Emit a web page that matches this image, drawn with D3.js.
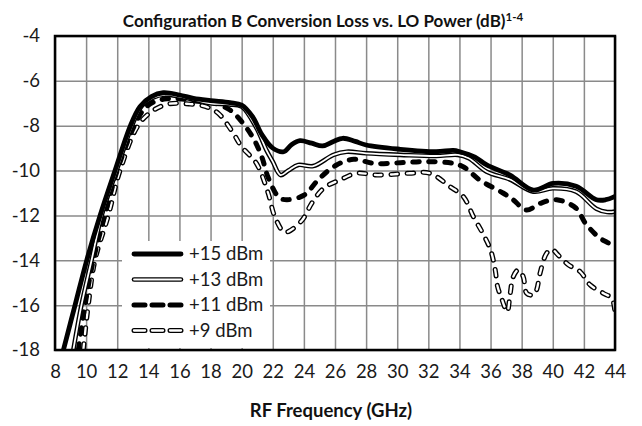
<!DOCTYPE html>
<html><head><meta charset="utf-8">
<script src="https://cdn.jsdelivr.net/npm/d3@7"></script>
<style>body{margin:0;background:#fff}svg{display:block}text{font-family:Lato,"Open Sans",sans-serif}</style>
</head><body><svg id="c" width="642" height="426"></svg>
<script>
const xTicks = [8,10,12,14,16,18,20,22,24,26,28,30,32,34,36,38,40,42,44];
const yTicks = [-18,-16,-14,-12,-10,-8,-6,-4];
const seriesNames = ["+15 dBm","+13 dBm","+11 dBm","+9 dBm"];

const freq15 = [8.54,9.29,10.04,10.9,11.86,12.85,13.46,14.2,14.96,16,16.9,18,19.25,20,20.7,21.3,22,22.7,23.2,23.75,24.5,25.2,25.9,26.5,27.3,28.0,30.2,32.5,33.6,34.03,35.0,35.75,37.25,38.75,40.03,41.5,42.8,43.4,44];
const loss15 = [-18,-16,-14,-12,-10,-8.0,-7.15,-6.7,-6.53,-6.63,-6.78,-6.88,-6.97,-7.08,-7.6,-8.4,-9.0,-9.16,-8.85,-8.67,-8.78,-8.9,-8.7,-8.56,-8.7,-8.86,-9.05,-9.16,-9.1,-9.16,-9.4,-9.75,-10.2,-10.87,-10.57,-10.7,-11.3,-11.3,-11.15];

const freq13 = [9.18,9.7,10.35,11.0,11.96,12.95,13.6,14.3,15,16,17,18,19.2,20,20.95,21.6,22,22.5,23,23.64,24.6,25.9,26.75,28.0,30.2,32.5,33.9,34.6,35.75,37.25,38.75,40,41.5,42.8,43.5,44];
const loss13 = [-18,-16,-14,-12,-10,-8.0,-7.1,-6.75,-6.62,-6.7,-6.85,-7.0,-7.05,-7.15,-8.1,-9.1,-9.6,-10.2,-10.0,-9.75,-9.8,-9.3,-9.16,-9.23,-9.3,-9.35,-9.3,-9.45,-10.05,-10.4,-10.94,-10.79,-10.94,-11.7,-11.85,-11.83];

const freq11 = [9.5,9.93,10.46,11.2,12.0,13.1,13.8,14.5,15.2,16,17,18.1,19.25,20,20.75,21.3,21.7,22.4,22.9,24,25.0,26.1,27.2,28.5,30.2,31.9,33.6,34.3,35.3,36.8,37.45,38.3,39.2,40.25,41.5,42.1,43,43.5,44];
const loss11 = [-18,-16,-14,-12,-10,-8.0,-7.2,-6.9,-6.8,-6.8,-6.9,-6.97,-7.3,-7.82,-8.56,-9.4,-10.3,-11.2,-11.3,-11.1,-10.35,-9.75,-9.5,-9.68,-9.65,-9.6,-9.68,-9.85,-10.42,-11.0,-11.3,-11.76,-11.46,-11.3,-11.68,-12.35,-13.0,-13.2,-13.4];

const freq9 = [9.82,10.14,10.57,11.43,12.18,13.3,14.2,15.3,16.6,17.7,18.5,19.4,20,20.95,21.7,22.1,22.7,23,23.9,24.5,25.25,26.3,27.4,28.7,30.8,32.1,33.4,34.25,34.9,35.5,36,36.3,36.45,36.71,37.07,37.25,37.46,37.78,38.1,38.32,38.75,38.96,39.18,39.6,39.93,40.35,41,41.75,42.4,43.25,43.8,44];
const loss9 = [-18,-16,-14,-12,-10,-8.04,-7.37,-7.03,-7.03,-7.15,-7.45,-8.27,-8.94,-9.68,-11.0,-12.0,-12.73,-12.72,-12.2,-11.46,-10.8,-10.42,-10.12,-10.2,-10.12,-10.12,-10.72,-11.16,-12.06,-12.8,-13.54,-14.43,-15.17,-15.7,-16.29,-15.55,-14.73,-14.43,-14.73,-15.47,-15.55,-15.32,-14.58,-13.69,-13.51,-13.77,-14.2,-14.5,-15.1,-15.47,-15.7,-16.35];

const W = 642, H = 426;
const m = {l:55, r:27, t:36, b:76};
const svg = d3.select("#c");
const x = d3.scaleLinear().domain([8,44]).range([m.l, W-m.r]);
const y = d3.scaleLinear().domain([-18,-4]).range([H-m.b, m.t]);

// gridlines
svg.append("g").attr("transform",`translate(0,${m.t})`)
  .call(d3.axisBottom(x).tickValues(xTicks).tickSize(H-m.b-m.t).tickFormat(""))
  .call(g=>{g.select(".domain").remove();g.selectAll("line").attr("stroke","#8a8a8a").attr("stroke-width",1.5);});
svg.append("g").attr("transform",`translate(${m.l},0)`)
  .call(d3.axisRight(y).tickValues(yTicks).tickSize(W-m.r-m.l).tickFormat(""))
  .call(g=>{g.select(".domain").remove();g.selectAll("line").attr("stroke","#8a8a8a").attr("stroke-width",1.5);});

// tick labels
svg.append("g").attr("transform",`translate(0,${H-m.b+12})`)
  .call(d3.axisBottom(x).tickValues(xTicks).tickSize(0).tickFormat(d3.format("d")))
  .call(g=>{g.select(".domain").remove();g.selectAll("text").attr("font-size",18.5).attr("fill","#1a1a1a").attr("font-family","Lato");});
svg.append("g").attr("transform",`translate(${m.l-12},0)`)
  .call(d3.axisLeft(y).tickValues(yTicks).tickSize(0).tickFormat(d=>d3.format("d")(d).replace("−","-")))
  .call(g=>{g.select(".domain").remove();g.selectAll("text").attr("font-size",18.5).attr("fill","#1a1a1a").attr("font-family","Lato");});

// clip
svg.append("clipPath").attr("id","pc").append("rect")
  .attr("x",m.l).attr("y",m.t).attr("width",W-m.r-m.l).attr("height",H-m.b-m.t);

const line = d3.line().x(d=>x(d[0])).y(d=>y(d[1])).curve(d3.curveCatmullRom.alpha(0.5));
const zip = (a,b)=>a.map((v,i)=>[v,b[i]]);
const data = [zip(freq15,loss15), zip(freq13,loss13), zip(freq11,loss11), zip(freq9,loss9)];

const styles = [
  [{stroke:"#000",w:4.8,dash:null}],
  [{stroke:"#000",w:4.6,dash:null},{stroke:"#fff",w:1.8,dash:null}],
  [{stroke:"#000",w:5,dash:"6.5,9.5"}],
  [{stroke:"#000",w:5,dash:"6.5,9.5"},{stroke:"#fff",w:2.3,dash:"6.5,9.5"}]
];

const plot = svg.append("g").attr("clip-path","url(#pc)");
[3,2,1,0].forEach(i=>{
  styles[i].forEach(s=>{
    plot.append("path").datum(data[i]).attr("d",line).attr("fill","none")
      .attr("stroke",s.stroke).attr("stroke-width",s.w)
      .attr("stroke-linecap", s.dash ? "round":"butt").attr("stroke-linejoin","round")
      .attr("stroke-dasharray",s.dash);
  });
});

// border
svg.append("rect").attr("x",m.l).attr("y",m.t).attr("width",W-m.r-m.l).attr("height",H-m.b-m.t)
  .attr("fill","none").attr("stroke","#000").attr("stroke-width",2.5);

// legend
const lg = svg.append("g");
lg.append("rect").attr("x",122).attr("y",241).attr("width",148).attr("height",107).attr("fill","#fff");
seriesNames.forEach((name,i)=>{
  const yy = 254 + i*25.5;
  styles[i].forEach(s=>{
    lg.append("line").attr("x1",134).attr("x2",181).attr("y1",yy).attr("y2",yy)
      .attr("stroke",s.stroke).attr("stroke-width",s.w)
      .attr("stroke-linecap", "round")
      .attr("stroke-dasharray",s.dash ? "11,7":null);
  });
  lg.append("text").attr("x",189).attr("y",yy+6).attr("font-size",18.5).attr("fill","#1a1a1a").text(name);
});

// titles
const t = svg.append("text").attr("x",323).attr("y",27).attr("text-anchor","middle")
  .attr("font-size",17).attr("font-weight","bold").attr("fill","#111");
t.append("tspan").text("Configuration B Conversion Loss vs. LO Power (dB)");
t.append("tspan").attr("font-size",11.5).attr("dy",-6).text("1-4");
svg.append("text").attr("x",331).attr("y",417).attr("text-anchor","middle")
  .attr("font-size",18.5).attr("font-weight","bold").attr("fill","#111").text("RF Frequency (GHz)");
</script></body></html>
